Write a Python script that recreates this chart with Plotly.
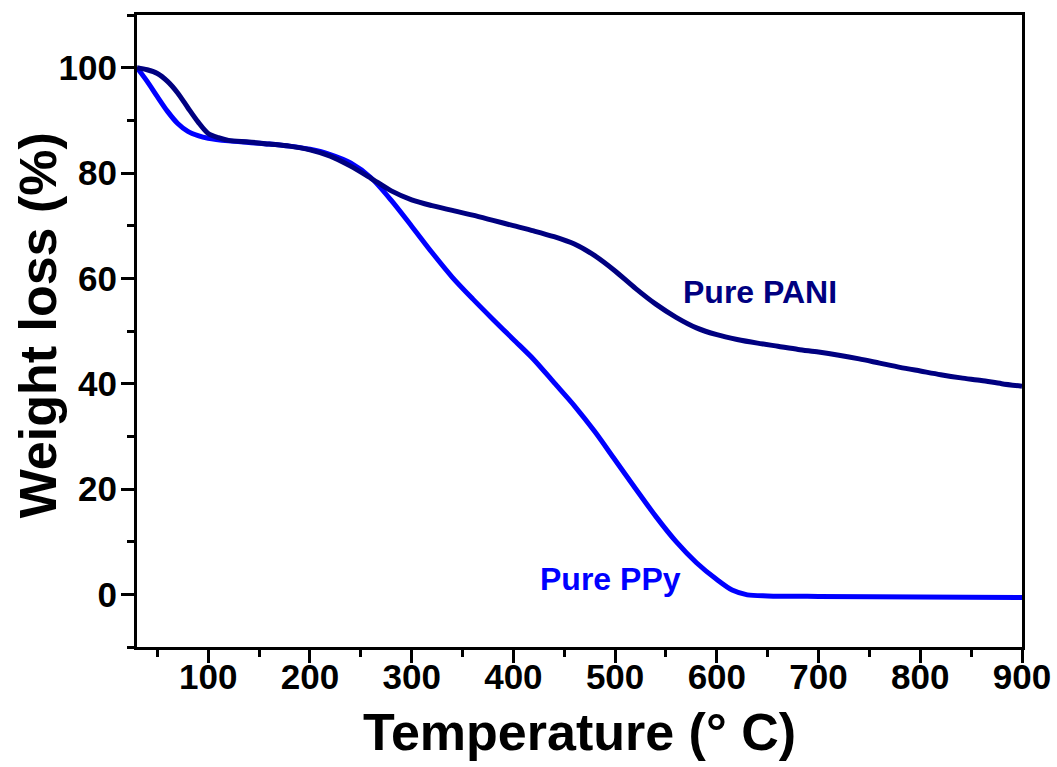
import plotly.graph_objects as go

# Pure PANI (temperature in deg C, weight %)
pani_t = [30, 40, 50, 60, 70, 80, 90, 100, 110, 120, 140, 160, 180, 200, 220, 240, 260, 280, 300, 320,
          340, 360, 380, 400, 420, 440, 460, 480, 500, 520, 540, 560, 580, 600, 620, 640, 660, 680, 700,
          720, 740, 760, 780, 800, 820, 840, 860, 880, 900]
pani_w = [100, 99.6, 98.9, 97.4, 95.2, 92.4, 89.7, 87.5, 86.7, 86.2, 85.9, 85.5, 85.1, 84.4, 83.2, 81.3,
          79.0, 76.6, 74.9, 73.8, 72.9, 72.0, 71.0, 70.0, 69.0, 67.9, 66.5, 64.3, 61.4, 58.1, 55.1, 52.6,
          50.6, 49.3, 48.4, 47.7, 47.1, 46.5, 46.0, 45.4, 44.7, 43.9, 43.1, 42.4, 41.7, 41.1, 40.6, 40.0,
          39.5]

# Pure PPy
ppy_t = [30, 40, 50, 60, 70, 80, 90, 100, 120, 140, 160, 180, 200, 220, 240, 260, 280, 300, 320, 340,
         360, 380, 400, 420, 440, 460, 480, 500, 520, 540, 560, 580, 600, 615, 630, 650, 700, 800, 900]
ppy_w = [100, 97.4, 94.5, 91.7, 89.4, 87.9, 87.1, 86.6, 86.1, 85.8, 85.5, 85.1, 84.5, 83.5, 81.9, 79.1,
         74.8, 69.9, 64.9, 60.2, 56.1, 52.2, 48.4, 44.6, 40.2, 35.8, 30.9, 25.5, 20.1, 14.8, 10.0, 6.0,
         2.8, 0.8, -0.1, -0.3, -0.4, -0.5, -0.6]

labels = ["Pure PANI", "Pure PPy"]
label_x = [642, 495]
label_y = [57.4, 3.0]

x_ticks = [100, 200, 300, 400, 500, 600, 700, 800, 900]
y_ticks = [0, 20, 40, 60, 80, 100]

navy = "#000080"
blue = "#0000FF"
font_fam = "Arial, Liberation Sans, sans-serif"

fig = go.Figure()
fig.add_trace(go.Scatter(x=ppy_t, y=ppy_w, mode="lines", name="Pure PPy",
                         line=dict(color=blue, width=5, shape="spline", smoothing=0.8)))
fig.add_trace(go.Scatter(x=pani_t, y=pani_w, mode="lines", name="Pure PANI",
                         line=dict(color=navy, width=5, shape="spline", smoothing=0.8)))

for txt, lx, ly, col in zip(labels, label_x, label_y, [navy, blue]):
    fig.add_annotation(x=lx, y=ly, text=txt, showarrow=False, xanchor="center", yanchor="middle",
                       font=dict(family=font_fam, size=32, color=col, weight="bold"))

# y-axis title placed as a rotated annotation (centre at page x~38)
fig.add_annotation(xref="paper", yref="paper", x=(38 - 137) / 885, y=0.509,
                   text="Weight loss (%)", textangle=-90, showarrow=False,
                   xanchor="center", yanchor="middle",
                   font=dict(family=font_fam, size=52, color="black", weight="bold"))

axis_common = dict(
    showline=True, linecolor="black", linewidth=3, mirror=True,
    ticks="outside", ticklen=13, tickwidth=3, tickcolor="black",
    showgrid=False, zeroline=False,
    tickfont=dict(family=font_fam, size=35, color="black", weight="bold"),
)

fig.update_xaxes(range=[30, 900], tickvals=x_ticks, ticktext=[str(v) for v in x_ticks],
                 ticklabeloverflow="allow", ticklabelstandoff=-16,
                 minor=dict(ticks="outside", ticklen=7, tickwidth=3, tickcolor="black", dtick=50, tick0=0),
                 title=dict(text="Temperature (° C)", standoff=19,
                            font=dict(family=font_fam, size=52, color="black", weight="bold")),
                 **axis_common)
fig.update_yaxes(range=[-10, 110], tickvals=y_ticks, ticktext=[str(v) for v in y_ticks],
                 ticklabelstandoff=-3,
                 minor=dict(ticks="outside", ticklen=7, tickwidth=3, tickcolor="black", dtick=10, tick0=0),
                 **axis_common)

fig.update_layout(
    width=1057, height=767,
    margin=dict(l=137, r=35, t=15, b=120, autoexpand=False),
    plot_bgcolor="white", paper_bgcolor="white",
    showlegend=False,
)

# remove the default 8px page margin so the figure fills the window exactly
fig.write_html("out.html",
               config={"displayModeBar": False},
               post_script="document.body.style.margin='0';document.body.style.overflow='hidden';")
